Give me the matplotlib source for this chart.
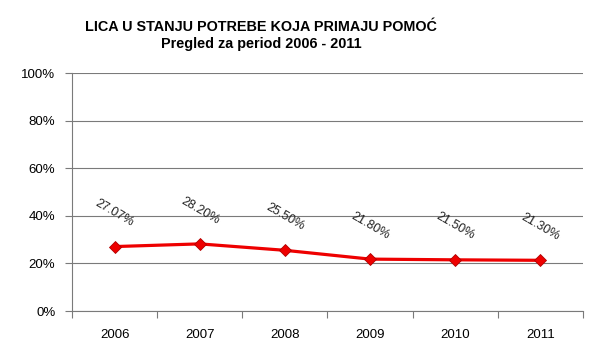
import matplotlib
matplotlib.use("Agg")
import matplotlib.pyplot as plt
from matplotlib.ticker import FixedLocator, FuncFormatter

years = ["2006", "2007", "2008", "2009", "2010", "2011"]
values = [27.07, 28.20, 25.50, 21.80, 21.50, 21.30]
labels = ["27.07%", "28.20%", "25.50%", "21.80%", "21.50%", "21.30%"]
title = "LICA U STANJU POTREBE KOJA PRIMAJU POMOĆ\nPregled za period 2006 - 2011"

plt.rcParams['font.family'] = ['Liberation Sans', 'DejaVu Sans']

fig = plt.figure(figsize=(6.02, 3.62), dpi=100)
ax = fig.add_axes([72/602, 1-311/362, (583-72)/602, (311-73)/362])

x = list(range(len(years)))
ax.plot(x, values, color="#EE0000", lw=2.3, marker="D", markersize=6.5,
        markerfacecolor="#EE0000", markeredgecolor="#B00000", markeredgewidth=0.6, zorder=3)

for xi, v, lab in zip(x, values, labels):
    ax.annotate(lab, (xi, v), xytext=(0, 24), textcoords="offset points",
                ha="center", va="center", rotation=-30, fontsize=9, color="#222222")

ax.set_xlim(-0.5, len(years) - 0.5)
ax.set_ylim(0, 100)
ax.set_yticks([0, 20, 40, 60, 80, 100])
ax.yaxis.set_major_formatter(FuncFormatter(lambda v, p: f"{int(v)}%"))
ax.grid(axis="y", color="#7a7a7a", lw=0.8)
ax.set_axisbelow(True)

ax.set_xticks(x)
ax.set_xticklabels(years)
ax.xaxis.set_minor_locator(FixedLocator([i - 0.5 for i in range(len(years) + 1)]))
ax.tick_params(axis="x", which="major", length=0, pad=13, labelsize=9.5)
ax.tick_params(axis="x", which="minor", length=5, color="#7a7a7a", width=0.8)
ax.tick_params(axis="y", length=5, color="#7a7a7a", width=0.8, labelsize=9.5, pad=7)

for s in ["top", "right"]:
    ax.spines[s].set_visible(False)
for s in ["left", "bottom"]:
    ax.spines[s].set_color("#7a7a7a")
    ax.spines[s].set_linewidth(0.8)

fig.text(261/602, 1-35.5/362, title, ha="center", va="center", fontsize=10.4,
         fontweight="bold", linespacing=1.2)

fig.savefig("out.png", dpi=100)
